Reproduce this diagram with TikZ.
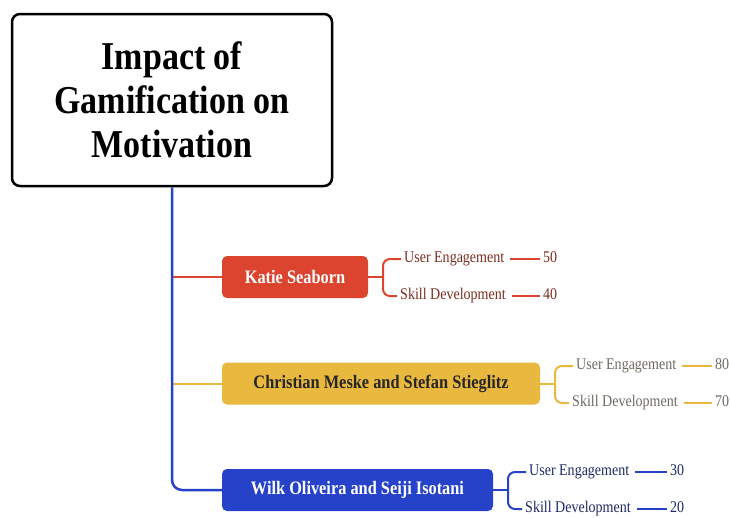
\documentclass[tikz,border=0pt]{standalone}
\usepackage{fontspec}
\setmainfont{Liberation Serif}
\newfontfamily\tallserif[FakeStretch=0.86]{Liberation Serif}
\definecolor{cred}{HTML}{DC4430}
\definecolor{cyel}{HTML}{E9B83E}
\definecolor{cblu}{HTML}{2642C8}
\definecolor{tred}{HTML}{7C2C20}
\definecolor{tyel}{HTML}{6E6A62}
\definecolor{tblu}{HTML}{1E2A66}
\begin{document}
\begin{tikzpicture}[x=1pt,y=-1pt,
  rootbox/.style={draw=black,line width=2.5pt,rounded corners=8pt,fill=white,minimum width=320pt,minimum height=172pt,align=center,font=\tallserif\bfseries\fontsize{39.5}{44}\selectfont},
  branchbox/.style={rounded corners=5pt,minimum height=42pt,inner xsep=10pt,font=\tallserif\bfseries\fontsize{19}{20}\selectfont},
  leaf/.style={anchor=west,inner sep=3pt,text height=11pt,text depth=4pt,font=\tallserif\fontsize{16.3}{18}\selectfont},
  val/.style={anchor=west,inner sep=3pt,text height=11pt,text depth=4pt,font=\tallserif\fontsize{16.3}{18}\selectfont},
  trunk/.style={draw=cblu,line width=2.5pt},
  link/.style={line width=2pt},
  leaflink/.style={line width=1.6pt}]
\useasboundingbox (0,0) rectangle (730,517);
% root
\node[rootbox] (root) at (172,100) {Impact of\\Gamification on\\Motivation};
% branch boxes
\node[branchbox,fill=cred,text=white,minimum width=146pt] (kb) at (295,277) {Katie Seaborn};
\node[branchbox,fill=cyel,text=black!85,minimum width=318pt] (cb) at (381,383.5) {Christian Meske and Stefan Stieglitz};
\node[branchbox,fill=cblu,text=white,minimum width=271pt] (wb) at (357.5,490) {Wilk Oliveira and Seiji Isotani};
% trunk
\coordinate (t1) at (172,277);
\coordinate (t2) at (172,383.5);
\draw[link,cred] (t1) -- (kb.west);
\draw[link,cyel] (t2) -- (cb.west);
\draw[trunk,rounded corners=10pt] (root.south) -- (172,490) -- (wb.west);
% Katie
\node[leaf,text=tred] (ku) at (401,259) {User Engagement};
\node[leaf,text=tred] (ks) at (397,296) {Skill Development};
\node[val,text=tred] (kuv) at (540,259) {50};
\node[val,text=tred] (ksv) at (540,296) {40};
\coordinate (kj) at (383,277);
\draw[link,cred] (kb.east) -- (kj);
\draw[link,cred,rounded corners=7pt] (kj) |- (ku.west);
\draw[link,cred,rounded corners=7pt] (kj) |- (ks.west);
\draw[leaflink,cred] (ku.east) ++(3,0) -- (kuv.west);
\draw[leaflink,cred] (ks.east) ++(3,0) -- (ksv.west);
% Christian
\node[leaf,text=tyel] (cu) at (573,366) {User Engagement};
\node[leaf,text=tyel] (cs) at (569,403) {Skill Development};
\node[val,text=tyel] (cuv) at (712,366) {80};
\node[val,text=tyel] (csv) at (712,403) {70};
\coordinate (cj) at (555,383.5);
\draw[link,cyel] (cb.east) -- (cj);
\draw[link,cyel,rounded corners=7pt] (cj) |- (cu.west);
\draw[link,cyel,rounded corners=7pt] (cj) |- (cs.west);
\draw[leaflink,cyel] (cu.east) ++(3,0) -- (cuv.west);
\draw[leaflink,cyel] (cs.east) ++(3,0) -- (csv.west);
% Wilk
\node[leaf,text=tblu] (wu) at (526,472) {User Engagement};
\node[leaf,text=tblu] (ws) at (522,509) {Skill Development};
\node[val,text=tblu] (wuv) at (667,472) {30};
\node[val,text=tblu] (wsv) at (667,509) {20};
\coordinate (wj) at (508,490);
\draw[link,cblu] (wb.east) -- (wj);
\draw[link,cblu,rounded corners=7pt] (wj) |- (wu.west);
\draw[link,cblu,rounded corners=7pt] (wj) |- (ws.west);
\draw[leaflink,cblu] (wu.east) ++(3,0) -- (wuv.west);
\draw[leaflink,cblu] (ws.east) ++(3,0) -- (wsv.west);
\end{tikzpicture}
\end{document}
